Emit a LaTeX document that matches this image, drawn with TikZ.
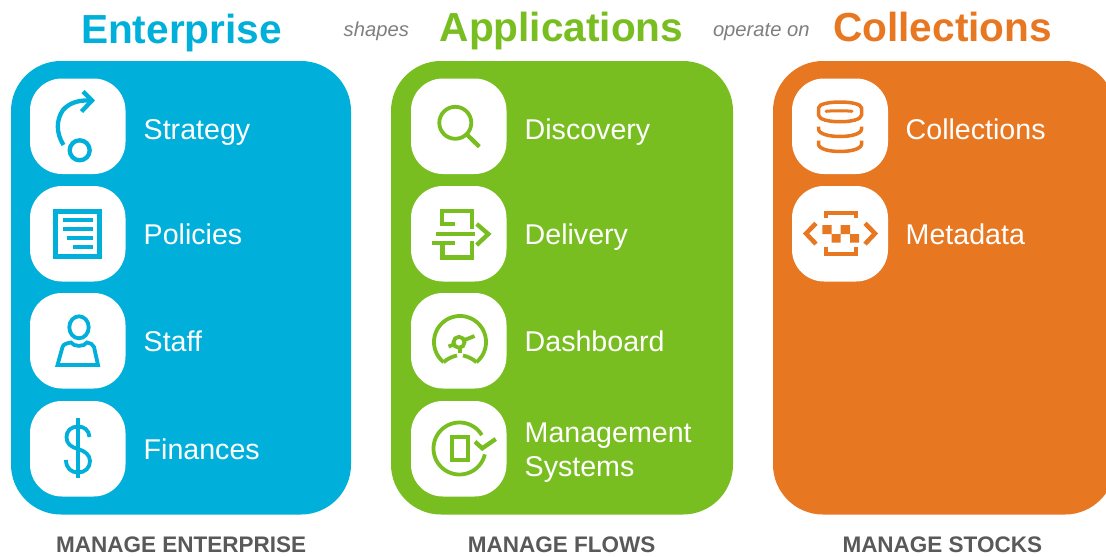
\documentclass[tikz,border=0pt]{standalone}
\usepackage{fontspec}
\setmainfont{Liberation Sans}
\definecolor{cblue}{HTML}{00B0DA}
\definecolor{cgreen}{HTML}{78BE20}
\definecolor{corange}{HTML}{E87722}
\definecolor{cgrey}{HTML}{595959}
\definecolor{citalic}{HTML}{7F7F7F}
\tikzset{
  panel/.style={rounded corners=50pt},
  tile/.style={fill=white,rounded corners=32pt},
  lab/.style={anchor=base west,inner sep=0pt,text=white,font=\fontsize{28.6}{30}\selectfont},
  head/.style={anchor=base,inner sep=0pt,font=\bfseries\fontsize{40.6}{42}\selectfont},
  verb/.style={anchor=base,inner sep=0pt,text=citalic,font=\itshape\fontsize{20.2}{22}\selectfont},
  foot/.style={anchor=base,inner sep=0pt,text=cgrey,font=\bfseries\fontsize{22.5}{24}\selectfont},
  ico/.style={line width=4.3pt,line join=miter},
  thin ico/.style={line width=3.8pt},
}
\begin{document}
\begin{tikzpicture}[x=1pt,y=-1pt]
\clip (0,0) rectangle (1106,557);
\fill[white] (0,0) rectangle (1106,557);
% panels
\fill[cblue,panel] (11,61) rectangle (351,514.5);
\fill[cgreen,panel] (391,61) rectangle (733,514.5);
\fill[corange,panel] (773,61) rectangle (1115,514.5);
% tiles
\foreach \x in {30,411} \foreach \y in {78.5,186,293,401}
  \fill[tile] (\x,\y) rectangle ++(95.5,95.5);
\foreach \y in {78.5,186}
  \fill[tile] (792,\y) rectangle ++(96,95.5);
% headings
\node[head,text=cblue] (h1) at (181.5,43) {Enterprise};
\node[verb] (v1) at (376.3,36) {shapes};
\node[head,text=cgreen] (h2) at (561.5,41) {Applications};
\node[verb] (v2) at (761.3,36) {operate on};
\node[head,text=corange] (h3) at (942.7,41) {Collections};
% labels
\node[lab] (l1) at (143.5,139) {Strategy};
\node[lab] (l2) at (143.5,244) {Policies};
\node[lab] (l3) at (143.5,351) {Staff};
\node[lab] (l4) at (143.5,459) {Finances};
\node[lab] (l5) at (524.5,139) {Discovery};
\node[lab] (l6) at (524.5,244) {Delivery};
\node[lab] (l7) at (524.5,351) {Dashboard};
\node[lab] (l8) at (524.5,442) {Management};
\node[lab] (l9) at (524.5,476) {Systems};
\node[lab] (l10) at (905.5,139) {Collections};
\node[lab] (l11) at (905.5,244) {Metadata};
% footers
\node[foot] (f1) at (181.2,552) {MANAGE ENTERPRISE};
\node[foot] (f2) at (561.7,552) {MANAGE FLOWS};
\node[foot] (f3) at (942.3,552) {MANAGE STOCKS};
% Enterprise icons
\begin{scope}[ico,draw=cblue]
\draw (63.5,145) .. controls (56,133) and (56,120) .. (63,110) .. controls (70,102) and (80,100) .. (91,100.5);
\draw (83,91.5) -- (92,100.5) -- (81.5,111.5);
\draw (79.7,150.3) circle[radius=10];
% Policies
\draw (55.5,211.5) rectangle (99.5,256.5);
\draw (62.7,220.3) -- (92.7,220.3);
\draw (62.7,229.3) -- (92.7,229.3);
\draw (66.7,238.3) -- (92.7,238.3);
\draw (73.3,247.3) -- (92.7,247.3);
% Staff
\draw[thin ico] (79,327.3) ellipse[x radius=9.7,y radius=11];
\draw[thin ico] (57.5,365) -- (62.5,347) .. controls (63,344) and (68,343) .. (71,342.5)
  .. controls (74,347) and (84,347) .. (87,342.5) .. controls (90,343) and (93,344) .. (94,347) -- (98,365) -- cycle;
% Dollar
\draw[thin ico] (78,418.3) -- (78,478.3);
\draw[thin ico] (89.5,437) .. controls (89,430) and (84,426.5) .. (78,426.5)
  .. controls (71,426.5) and (66.5,431) .. (66.5,437) .. controls (66.5,444) and (71,447) .. (78,449)
  .. controls (85,451) and (90,455) .. (90,461) .. controls (90,468) and (85,472.5) .. (78,472.5)
  .. controls (71,472.5) and (66,468) .. (66,460);
\end{scope}
% Applications icons
\begin{scope}[ico,draw=cgreen]
\draw[thin ico] (455.3,122.8) circle[radius=16];
\draw (467.2,134.8) -- (479.3,146.7);
\draw (455,224.3) -- (442,224.3) -- (442,211) -- (471.7,211) -- (471.7,229);
\draw (436,234) -- (475,234);
\draw (432,243.3) -- (455,243.3);
\draw (442.5,243.3) -- (442.5,257.5) -- (471.7,257.5) -- (471.7,241);
\draw (476.7,224) -- (488.3,234) -- (476.7,245);
% Dashboard
\draw[thin ico] plot[domain=129:411,samples=70] ({460+26*cos(\x)},{342+26*sin(\x)});
\draw[thin ico] (443.6,362.2) .. controls (447,359) and (452,356.5) .. (457,355.5);
\draw[thin ico] (463,355.5) .. controls (468,356.5) and (473,359) .. (476.4,362.2);
\draw[thin ico] (459,342.3) circle[radius=5.5];
\draw[thin ico] (448.5,346.5) -- (454,344.5);
\draw[thin ico] (464.5,340) -- (474.5,336);
\draw[thin ico] (460,348) -- (460,353);
% Management
\draw[thin ico] plot[domain=-31:-347,samples=70] ({459.5+26*cos(\x)},{448.5+26*sin(\x)});
\draw[thin ico] (452,437) rectangle (468,460);
\draw (475,441.7) -- (482.3,448.3) -- (495.7,439);
\end{scope}
% Collections icons
\begin{scope}[ico,draw=corange,line width=3.5pt]
\draw (818.5,108) .. controls (818.5,100) and (861.5,100) .. (861.5,108) -- (861.5,115) .. controls (861.5,124) and (818.5,124) .. (818.5,115) -- cycle;
\draw[line cap=round,line width=3pt] (826,111.3) .. controls (832,110.6) and (846,110.6) .. (852,111.3);
\draw (818.5,126.7) -- (818.5,129) .. controls (818.5,139) and (861.5,139) .. (861.5,129) -- (861.5,126.7);
\draw (818.5,140.7) -- (818.5,144) .. controls (818.5,154) and (861.5,154) .. (861.5,144) -- (861.5,140.7);
\draw[line width=4pt] (825.5,218.3) -- (825.5,212.7) -- (855.5,212.7) -- (855.5,218.3);
\draw[line width=4pt] (825.5,246.7) -- (825.5,253.7) -- (855.5,253.7) -- (855.5,246.7);
\draw[line width=4.5pt] (816,223.3) -- (806,233.5) -- (816,244);
\draw[line width=4.5pt] (865,223.3) -- (875,233.5) -- (865,244);
\fill[corange] (822.3,225) rectangle (831.7,234) (840.7,225) rectangle (850,234)
  (831.7,234) rectangle (840.7,242.7) (850,234) rectangle (859,242.7);
\end{scope}
\end{tikzpicture}
\end{document}
